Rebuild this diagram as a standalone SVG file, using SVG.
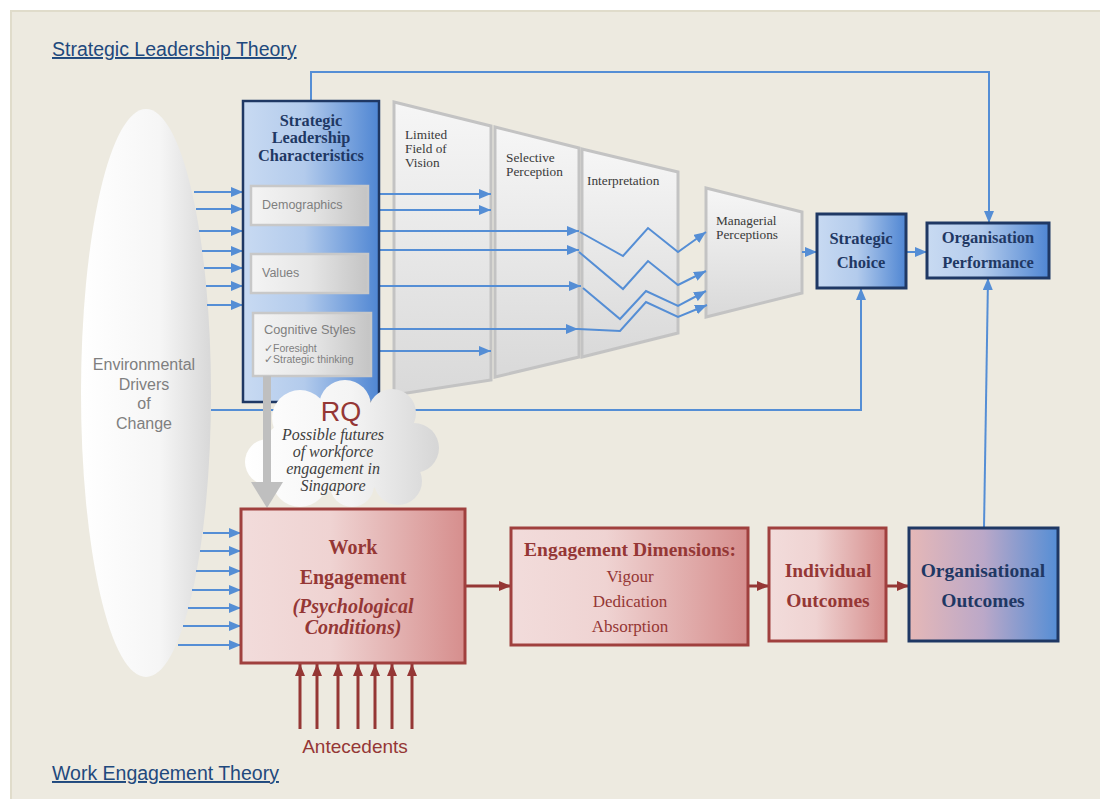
<svg xmlns="http://www.w3.org/2000/svg" width="1100" height="799" viewBox="0 0 1100 799">
  <defs>
    <style>
      .blue { fill: none; stroke: #558ed5; stroke-width: 2; }
      .red { fill: none; stroke: #953735; stroke-width: 3; }
      .sans { font-family: "Liberation Sans", Arial, sans-serif; }
      .serif { font-family: "Liberation Serif", "Times New Roman", serif; }
      .navyT { fill: #1f3864; font-weight: bold; }
      .redT { fill: #953735; }
      .funnelT { fill: #3a3a3a; font-size: 13.3px; }
      .grayT { fill: #7f7f7f; }
      .heading { fill: #1f497d; font-size: 19.5px; text-decoration: underline; }
      .trap { stroke: #c3c3c3; stroke-width: 3; fill: url(#gTrap); }
      .inner { stroke: #c8c8c8; stroke-width: 2.5; fill: url(#gInner); }
    </style>
    <linearGradient id="gBlue" x1="0" y1="0" x2="1" y2="0">
      <stop offset="0" stop-color="#c8daf2"/>
      <stop offset="0.45" stop-color="#b3cbec"/>
      <stop offset="1" stop-color="#4f86d3"/>
    </linearGradient>
    <linearGradient id="gRed" x1="0" y1="0" x2="1" y2="0">
      <stop offset="0" stop-color="#f2dcdb"/>
      <stop offset="0.4" stop-color="#efd3d2"/>
      <stop offset="1" stop-color="#d68e8d"/>
    </linearGradient>
    <linearGradient id="gOrg" x1="0" y1="0" x2="1" y2="0">
      <stop offset="0" stop-color="#e6b8b7"/>
      <stop offset="0.5" stop-color="#bba8c8"/>
      <stop offset="1" stop-color="#558ed5"/>
    </linearGradient>
    <linearGradient id="gInner" x1="0" y1="0" x2="1" y2="0">
      <stop offset="0" stop-color="#f4f4f4"/>
      <stop offset="0.5" stop-color="#e6e6e6"/>
      <stop offset="1" stop-color="#c4c4c4"/>
    </linearGradient>
    <linearGradient id="gTrap" x1="0" y1="0" x2="0" y2="1">
      <stop offset="0" stop-color="#f6f6f6"/>
      <stop offset="1" stop-color="#d9d9d9"/>
    </linearGradient>
    <linearGradient id="gEllipse" x1="0" y1="0" x2="1" y2="0">
      <stop offset="0" stop-color="#ffffff"/>
      <stop offset="0.6" stop-color="#f6f6f6"/>
      <stop offset="1" stop-color="#d8d8d8"/>
    </linearGradient>
    <linearGradient id="gCloud" gradientUnits="userSpaceOnUse" x1="245" y1="0" x2="438" y2="0">
      <stop offset="0" stop-color="#ffffff"/>
      <stop offset="0.55" stop-color="#f4f4f4"/>
      <stop offset="1" stop-color="#d6d6d6"/>
    </linearGradient>
    <marker id="aBlue" markerUnits="userSpaceOnUse" markerWidth="12" markerHeight="10" viewBox="0 0 12 10" refX="12" refY="5" orient="auto">
      <path d="M0,0 L12,5 L0,10 Z" fill="#558ed5"/>
    </marker>
    <marker id="aRed" markerUnits="userSpaceOnUse" markerWidth="12" markerHeight="10" viewBox="0 0 12 10" refX="12" refY="5" orient="auto">
      <path d="M0,0 L12,5 L0,10 Z" fill="#953735"/>
    </marker>
  </defs>

  <!-- page -->
  <rect x="0" y="0" width="1100" height="799" fill="#ffffff"/>
  <rect x="11" y="11" width="1095" height="795" fill="#edeae0" stroke="#e0dccb" stroke-width="2"/>

  <!-- section headings -->
  <text class="sans heading" x="52" y="56">Strategic Leadership Theory</text>
  <text class="sans heading" x="52" y="780">Work Engagement Theory</text>

  <!-- environment ellipse -->
  <g id="environment">
    <ellipse cx="146" cy="393" rx="65" ry="284" fill="url(#gEllipse)"/>
    <g class="sans grayT" font-size="16" text-anchor="middle">
      <text x="144" y="370">Environmental</text>
      <text x="144" y="390">Drivers</text>
      <text x="144" y="409">of</text>
      <text x="144" y="429">Change</text>
    </g>
  </g>

  <!-- perception funnel -->
  <g id="limited-field">
    <polygon class="trap" points="394,102 491,126 491,380 394,395"/>
    <g class="serif funnelT">
      <text x="405" y="139">Limited</text>
      <text x="405" y="153">Field of</text>
      <text x="405" y="167">Vision</text>
    </g>
  </g>
  <g id="selective-perception">
    <polygon class="trap" points="495,127 579,148 579,357 495,377"/>
    <g class="serif funnelT">
      <text x="506" y="162">Selective</text>
      <text x="506" y="176">Perception</text>
    </g>
  </g>
  <g id="interpretation">
    <polygon class="trap" points="582,149 678,172 678,333 582,357"/>
    <text class="serif funnelT" x="587" y="185">Interpretation</text>
  </g>
  <g id="managerial-perceptions">
    <polygon class="trap" points="706,188 802,212 802,293 706,317"/>
    <g class="serif funnelT">
      <text x="716" y="225">Managerial</text>
      <text x="716" y="239">Perceptions</text>
    </g>
  </g>

  <!-- connectors -->
  <g id="connectors">
    <!-- environment into leadership characteristics -->
    <path class="blue" marker-end="url(#aBlue)" d="M194,192 H243"/>
    <path class="blue" marker-end="url(#aBlue)" d="M196,209 H243"/>
    <path class="blue" marker-end="url(#aBlue)" d="M199,231 H243"/>
    <path class="blue" marker-end="url(#aBlue)" d="M202,251 H243"/>
    <path class="blue" marker-end="url(#aBlue)" d="M204,268 H243"/>
    <path class="blue" marker-end="url(#aBlue)" d="M206,286 H243"/>
    <path class="blue" marker-end="url(#aBlue)" d="M207,305 H243"/>

    <!-- environment into work engagement -->
    <path class="blue" marker-end="url(#aBlue)" d="M203,533 H241"/>
    <path class="blue" marker-end="url(#aBlue)" d="M200,551 H241"/>
    <path class="blue" marker-end="url(#aBlue)" d="M196,571 H241"/>
    <path class="blue" marker-end="url(#aBlue)" d="M192,590 H241"/>
    <path class="blue" marker-end="url(#aBlue)" d="M188,608 H241"/>
    <path class="blue" marker-end="url(#aBlue)" d="M183,626 H241"/>
    <path class="blue" marker-end="url(#aBlue)" d="M178,645 H241"/>

    <!-- filtered rays through the funnel -->
    <path class="blue" marker-end="url(#aBlue)" d="M379,194 H491"/>
    <path class="blue" marker-end="url(#aBlue)" d="M379,210 H491"/>
    <path class="blue" marker-end="url(#aBlue)" d="M379,231 H579"/>
    <path class="blue" marker-end="url(#aBlue)" d="M379,250 H579"/>
    <path class="blue" marker-end="url(#aBlue)" d="M379,286 H581"/>
    <path class="blue" marker-end="url(#aBlue)" d="M379,329 H578"/>
    <path class="blue" marker-end="url(#aBlue)" d="M379,351 H491"/>
    <path class="blue" marker-end="url(#aBlue)" d="M580,232 L623,256 L648,228 L678,252 L706,232"/>
    <path class="blue" marker-end="url(#aBlue)" d="M579,252 L623,289 L648,261 L678,285 L706,271"/>
    <path class="blue" marker-end="url(#aBlue)" d="M583,288 L620,319 L646,291 L678,306 L706,291"/>
    <path class="blue" marker-end="url(#aBlue)" d="M578,329 L620,331 L646,302 L678,317 L707,305"/>

    <!-- managerial perceptions to strategic choice to performance -->
    <path class="blue" marker-end="url(#aBlue)" d="M802,252 H817"/>
    <path class="blue" marker-end="url(#aBlue)" d="M898,252 H927"/>
    <!-- leadership characteristics over the top to performance -->
    <path class="blue" marker-end="url(#aBlue)" d="M311,101 V72 H989 V223"/>
    <!-- environment direct to strategic choice -->
    <path class="blue" marker-end="url(#aBlue)" d="M211,410 H861 V288"/>
    <!-- organisational outcomes up to performance -->
    <path class="blue" marker-end="url(#aBlue)" d="M984,528 L988,278"/>

    <!-- work engagement chain -->
    <path class="red" stroke-width="2.5" marker-end="url(#aRed)" d="M465,586 H511"/>
    <path class="red" stroke-width="2.5" marker-end="url(#aRed)" d="M748,586 H769"/>
    <path class="red" stroke-width="2.5" marker-end="url(#aRed)" d="M886,586 H909"/>

    <!-- antecedents -->
    <path class="red" marker-end="url(#aRed)" d="M300,729 V664"/>
    <path class="red" marker-end="url(#aRed)" d="M317,729 V664"/>
    <path class="red" marker-end="url(#aRed)" d="M338,729 V664"/>
    <path class="red" marker-end="url(#aRed)" d="M358,729 V664"/>
    <path class="red" marker-end="url(#aRed)" d="M375,729 V664"/>
    <path class="red" marker-end="url(#aRed)" d="M392,729 V664"/>
    <path class="red" marker-end="url(#aRed)" d="M412,729 V664"/>
  </g>

  <!-- strategic leadership characteristics -->
  <g id="leadership-characteristics">
    <rect x="243" y="101" width="136" height="301" fill="url(#gBlue)" stroke="#1f3864" stroke-width="2.5"/>
    <g class="serif navyT" font-size="16.3" text-anchor="middle">
      <text x="311" y="126">Strategic</text>
      <text x="311" y="143">Leadership</text>
      <text x="311" y="161">Characteristics</text>
    </g>
    <rect class="inner" x="251" y="186" width="117" height="39"/>
    <text class="sans grayT" x="262" y="209" font-size="12.5">Demographics</text>
    <rect class="inner" x="251" y="254" width="117" height="39"/>
    <text class="sans grayT" x="262" y="277" font-size="12.5">Values</text>
    <rect class="inner" x="253" y="313" width="118" height="63"/>
    <text class="sans grayT" x="264" y="334" font-size="12.8">Cognitive Styles</text>
    <text class="sans grayT" x="264" y="352" font-size="10.5">✓Foresight</text>
    <text class="sans grayT" x="264" y="363" font-size="10.5">✓Strategic thinking</text>
  </g>

  <!-- research question cloud -->
  <g id="research-question">
    <g fill="url(#gCloud)">
      <circle cx="300" cy="418" r="28"/>
      <circle cx="345" cy="406" r="26"/>
      <circle cx="392" cy="413" r="24"/>
      <circle cx="414" cy="448" r="25"/>
      <circle cx="398" cy="481" r="24"/>
      <circle cx="352" cy="485" r="22"/>
      <circle cx="300" cy="479" r="28"/>
      <circle cx="268" cy="462" r="23"/>
      <ellipse cx="340" cy="450" rx="78" ry="42"/>
    </g>
    <!-- link from cognitive styles down to work engagement -->
    <rect x="263" y="376" width="8" height="108" fill="#bfbfbf"/>
    <polygon points="251,482 283,482 267,508" fill="#bfbfbf"/>
    <text class="sans redT" x="341" y="421" font-size="27" text-anchor="middle">RQ</text>
    <g class="serif" font-size="16" font-style="italic" fill="#404040" text-anchor="middle">
      <text x="333" y="440">Possible futures</text>
      <text x="333" y="457">of workforce</text>
      <text x="333" y="474">engagement in</text>
      <text x="333" y="491">Singapore</text>
    </g>
  </g>

  <!-- strategic choice -->
  <g id="strategic-choice">
    <rect x="817" y="214" width="89" height="74" fill="url(#gBlue)" stroke="#1f3864" stroke-width="3"/>
    <g class="serif navyT" font-size="16.5" text-anchor="middle">
      <text x="861" y="244">Strategic</text>
      <text x="861" y="268">Choice</text>
    </g>
  </g>

  <!-- organisation performance -->
  <g id="organisation-performance">
    <rect x="927" y="223" width="122" height="55" fill="url(#gBlue)" stroke="#1f3864" stroke-width="3"/>
    <g class="serif navyT" font-size="16.5" text-anchor="middle">
      <text x="988" y="243">Organisation</text>
      <text x="988" y="268">Performance</text>
    </g>
  </g>

  <!-- work engagement -->
  <g id="work-engagement">
    <rect x="241" y="509" width="224" height="154" fill="url(#gRed)" stroke="#a0403e" stroke-width="3"/>
    <g class="serif redT" font-size="20" font-weight="bold" text-anchor="middle">
      <text x="353" y="554">Work</text>
      <text x="353" y="584">Engagement</text>
      <text x="353" y="613" font-style="italic">(Psychological</text>
      <text x="353" y="634" font-style="italic">Conditions)</text>
    </g>
  </g>

  <!-- engagement dimensions -->
  <g id="engagement-dimensions">
    <rect x="511" y="528" width="237" height="117" fill="url(#gRed)" stroke="#a0403e" stroke-width="3"/>
    <g class="serif redT" text-anchor="middle">
      <text x="630" y="556" font-size="19.5" font-weight="bold">Engagement Dimensions:</text>
      <text x="630" y="582" font-size="17">Vigour</text>
      <text x="630" y="607" font-size="17">Dedication</text>
      <text x="630" y="632" font-size="17">Absorption</text>
    </g>
  </g>

  <!-- individual outcomes -->
  <g id="individual-outcomes">
    <rect x="769" y="528" width="117" height="113" fill="url(#gRed)" stroke="#a0403e" stroke-width="3"/>
    <g class="serif redT" font-size="19.5" font-weight="bold" text-anchor="middle">
      <text x="828" y="577">Individual</text>
      <text x="828" y="607">Outcomes</text>
    </g>
  </g>

  <!-- organisational outcomes -->
  <g id="organisational-outcomes">
    <rect x="909" y="528" width="149" height="113" fill="url(#gOrg)" stroke="#1f3864" stroke-width="3"/>
    <g class="serif navyT" font-size="19.5" text-anchor="middle">
      <text x="983" y="577">Organisational</text>
      <text x="983" y="607">Outcomes</text>
    </g>
  </g>

  <!-- antecedents label -->
  <g id="antecedents">
    <text class="sans redT" x="355" y="753" font-size="19" text-anchor="middle">Antecedents</text>
  </g>
</svg>
